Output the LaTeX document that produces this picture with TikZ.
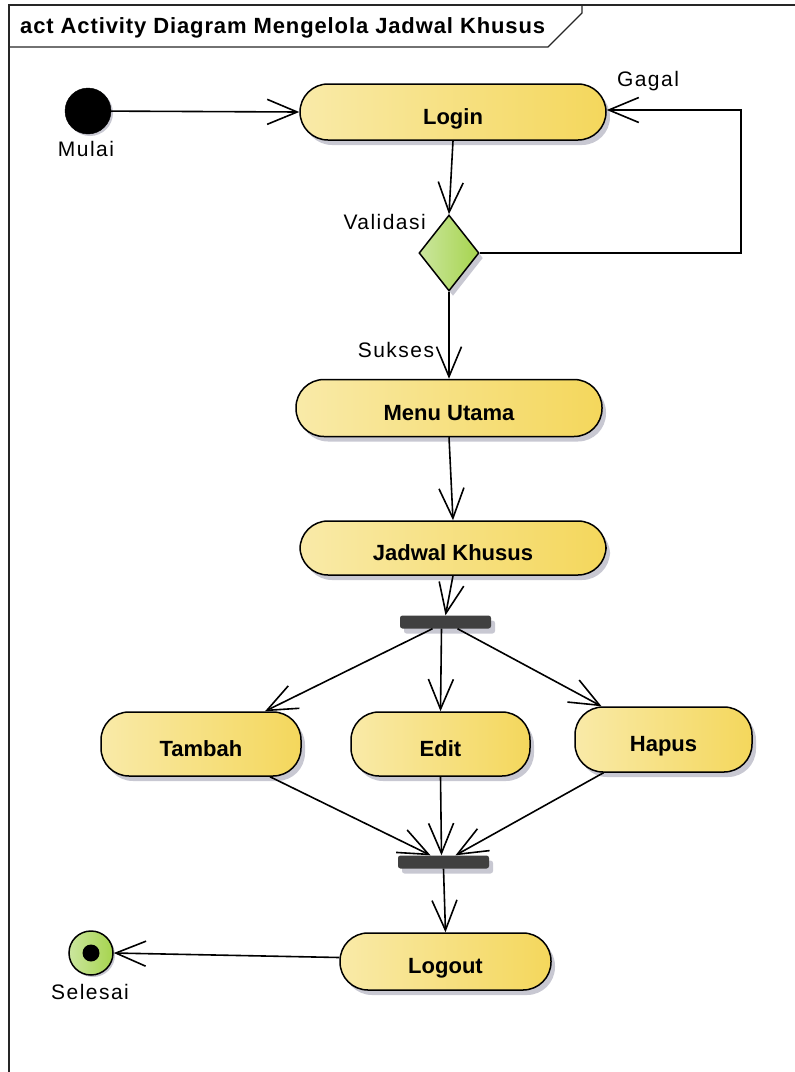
\documentclass[tikz,border=0pt]{standalone}
\usepackage{fontspec}
\setmainfont{Liberation Sans}
\usetikzlibrary{arrows.meta,shapes.geometric,shadows}

\definecolor{actleft}{HTML}{F9EAA8}
\definecolor{actright}{HTML}{F4D75C}
\definecolor{decleft}{HTML}{CBE69E}
\definecolor{decright}{HTML}{A6D44E}
\definecolor{shade}{HTML}{C8C8D2}
\definecolor{barfill}{HTML}{404040}

\tikzset{
  shadowed/.style={drop shadow={shadow xshift=4pt, shadow yshift=-5pt, fill=shade, opacity=1}},
  action/.style={rectangle, draw=black, line width=1.5pt, rounded corners=28pt,
    left color=actleft, right color=actright, shadowed,
    font=\fontsize{22}{26}\selectfont\bfseries, inner sep=0pt,
    text height=24pt, text depth=0pt},
  decision/.style={diamond, draw=black, line width=1.5pt, inner sep=0pt,
    left color=decleft, right color=decright, shadowed,
    minimum width=60pt, minimum height=76pt},
  syncbar/.style={rectangle, fill=barfill, rounded corners=2.5pt, inner sep=0pt,
    minimum width=91pt, minimum height=13pt, shadowed},
  lbl/.style={font=\fontsize{21}{25}\selectfont\addfontfeature{LetterSpace=7}, inner sep=0pt},
  flow/.style={draw=black, line width=1.6pt, -{Straight Barb[length=30pt, width=25pt]}},
  frameline/.style={draw=black!85, line width=1.3pt}
}

\begin{document}
\begin{tikzpicture}[x=1pt, y=-1pt]
\useasboundingbox (0,0) rectangle (795,1072);

% diagram frame with its title tab
\draw[frameline] (9,1072) -- (9,5) -- (795,5);
\draw[frameline] (9,47) -- (548,47) -- (582,13) -- (582,5);
\node[anchor=west, inner sep=0pt,
  font=\fontsize{22}{26}\selectfont\bfseries\addfontfeature{LetterSpace=4}] (title) at (20,28)
  {act Activity Diagram Mengelola Jadwal Khusus};

% initial node
\node[circle, fill=black, draw=black, minimum size=46pt, inner sep=0pt,
  drop shadow={shadow xshift=2pt, shadow yshift=-2pt, fill=shade, opacity=1}] (start) at (88,111) {};
\node[lbl] (mulai) at (86,149) {Mulai};

% actions
\node[action, minimum width=306pt, minimum height=56pt] (login) at (453,112) {Login};
\node[decision] (dec) at (449,253) {};
\node[lbl, anchor=east] (validasi) at (426,222) {Validasi};
\node[lbl] (gagal) at (648,81) {Gagal};
\node[lbl] (sukses) at (396,350) {Sukses};
\node[action, minimum width=306pt, minimum height=57pt] (menu) at (449,408) {Menu Utama};
\node[action, minimum width=306pt, minimum height=54pt] (jadwal) at (453,548) {Jadwal Khusus};

% fork and the three branches
\node[syncbar] (fork) at (445.5,622) {};
\node[action, minimum width=200pt, minimum height=64pt] (tambah) at (201,744) {Tambah};
\node[action, minimum width=179pt, minimum height=64pt] (edit) at (440.5,744) {Edit};
\node[action, minimum width=177pt, minimum height=65pt] (hapus) at (663.5,739.5) {Hapus};

% join, logout and final node
\node[syncbar] (join) at (443.5,862) {};
\node[action, minimum width=211pt, minimum height=57pt] (logout) at (445.5,961.5) {Logout};
\node[circle, draw=black, line width=1.5pt, left color=decleft, right color=decright,
  minimum size=44pt, inner sep=0pt,
  drop shadow={shadow xshift=2pt, shadow yshift=-2pt, fill=shade, opacity=1}] (final) at (91,953) {};
\node[circle, fill=black, minimum size=17pt, inner sep=0pt] (finaldot) at (final.center) {};
\node[lbl] (selesai) at (90,992) {Selesai};

% control flows
\coordinate (loopcorner) at (741,253);
\draw[flow] (start) -- (login.west);
\draw[flow] (login.south) -- (dec.north);
\draw[flow] (dec.east) -- (loopcorner) |- ([yshift=2pt]login.east);
\draw[flow] (dec.south) -- (menu.north);
\draw[flow] (menu.south) -- (jadwal.north);
\draw[flow] (jadwal.south) -- (fork.north);
\draw[flow] ([xshift=-13pt]fork.south) -- ([xshift=64pt]tambah.north);
\draw[flow] ([xshift=-4pt]fork.south) -- (edit.north);
\draw[flow] ([xshift=12pt]fork.south) -- ([xshift=-62pt]hapus.north);
\draw[flow] ([xshift=69pt]tambah.south) -- ([xshift=-13pt]join.north);
\draw[flow] (edit.south) -- ([xshift=-2pt]join.north);
\draw[flow] ([xshift=-60pt]hapus.south) -- ([xshift=12pt]join.north);
\draw[flow] (join.south) -- (logout.north);
\draw[flow] ([yshift=4pt]logout.west) -- (final.east);
\end{tikzpicture}
\end{document}
